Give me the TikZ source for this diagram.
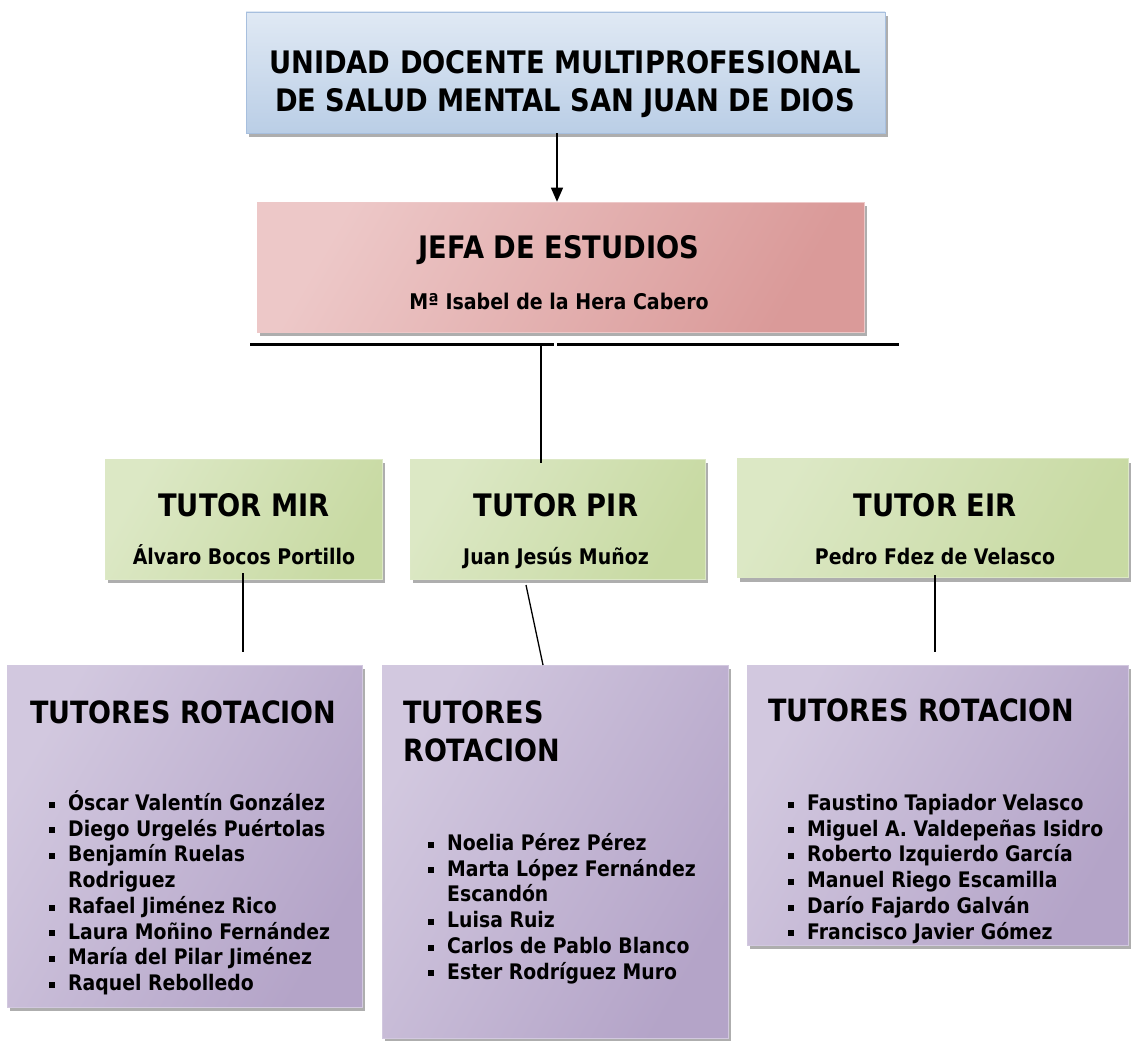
\documentclass[tikz,border=0pt]{standalone}
\usepackage{fontspec}
\newfontfamily\tah{DejaVu Sans}[FakeStretch=0.88]
\usetikzlibrary{shadows,arrows.meta}
\newcommand\fsz[2]{\tah\bfseries\fontsize{#1}{#2}\selectfont}
\newcommand\bul{\rule[0.13em]{0.28em}{0.28em}}
\definecolor{blueL}{HTML}{E0E9F4}
\definecolor{blueD}{HTML}{BACEE6}
\definecolor{blueB}{HTML}{A7BFDE}
\definecolor{pinkL}{HTML}{F8EAEA}
\definecolor{pinkD}{HTML}{DA9A99}
\definecolor{pinkM}{HTML}{EDC8C8}
\definecolor{greenL}{HTML}{EFF5E4}
\definecolor{greenD}{HTML}{C8DAA3}
\definecolor{greenM}{HTML}{DCE8C5}
\definecolor{purpL}{HTML}{EAE6F1}
\definecolor{purpD}{HTML}{B4A4C8}
\definecolor{purpM}{HTML}{D2C8DF}
\tikzset{
  shad/.style={drop shadow={shadow xshift=3pt,shadow yshift=-4pt,fill=black!45,opacity=0.7}},
  bluebox/.style={shad,draw=blueB,line width=0.6pt,top color=blueL,bottom color=blueD,inner sep=0pt},
  pinkbox/.style={shad,draw=pinkM,line width=0.6pt,left color=pinkM,middle color=pinkL,right color=pinkD,shading angle=60,inner sep=0pt},
  greenbox/.style={shad,draw=greenM,line width=0.6pt,left color=greenM,middle color=greenL,right color=greenD,shading angle=60,inner sep=0pt},
  purpbox/.style={shad,draw=purpM,line width=0.6pt,left color=purpM,middle color=purpL,right color=purpD,shading angle=60,inner sep=0pt},
  conn/.style={line width=1.3pt,black},
  txt/.style={inner sep=0pt,anchor=base}
}
\begin{document}
\begin{tikzpicture}[x=1pt,y=-1pt]
\useasboundingbox[fill=white] (0,0) rectangle (1132,1041);
% boxes
\node[bluebox,minimum width=639pt,minimum height=121pt] (top) at (565.5,72.5) {};
\node[pinkbox,minimum width=607pt,minimum height=130pt] (jefa) at (560.5,267) {};
\node[greenbox,minimum width=277pt,minimum height=120pt] (mir) at (243.5,519) {};
\node[greenbox,minimum width=295pt,minimum height=120pt] (pir) at (557.5,519) {};
\node[greenbox,minimum width=391pt,minimum height=119pt] (eir) at (932.5,518) {};
\node[purpbox,minimum width=355pt,minimum height=342pt] (rot1) at (184.5,836) {};
\node[purpbox,minimum width=346pt,minimum height=373pt] (rot2) at (555,851.5) {};
\node[purpbox,minimum width=381pt,minimum height=280pt] (rot3) at (937.5,805) {};
% texts
\node[txt,align=center,font=\fsz{31}{38}] (topT) at (565,111) {UNIDAD DOCENTE MULTIPROFESIONAL\\DE SALUD MENTAL SAN JUAN DE DIOS};
\node[txt,font=\fsz{31}{36}] (jefaT) at (559,258) {JEFA DE ESTUDIOS};
\node[txt,font=\fsz{21.6}{26}] (jefaN) at (559,309.5) {Mª Isabel de la Hera Cabero};
\node[txt,font=\fsz{31}{36}] (mirT) at (244,516) {TUTOR MIR};
\node[txt,font=\fsz{21.5}{26}] (mirN) at (244,564.5) {Álvaro Bocos Portillo};
\node[txt,font=\fsz{31}{36}] (pirT) at (556,516) {TUTOR PIR};
\node[txt,font=\fsz{21.5}{26}] (pirN) at (556,564.5) {Juan Jesús Muñoz};
\node[txt,font=\fsz{31}{36}] (eirT) at (935,516) {TUTOR EIR};
\node[txt,font=\fsz{21.5}{26}] (eirN) at (935,564.5) {Pedro Fdez de Velasco};
% rotation titles
\node[txt,anchor=base west,font=\fsz{30.7}{38}] (r1T) at (30,723) {TUTORES ROTACION};
\node[txt,anchor=base west,align=left,font=\fsz{30.7}{38}] (r2T) at (403,761) {TUTORES\\ROTACION};
\node[txt,anchor=base west,font=\fsz{30.7}{38}] (r3T) at (768,721) {TUTORES ROTACION};
% lists
\node[txt,anchor=base west,font=\fsz{21.4}{25.7}] (r1L) at (49,810.5) {\begin{tabular}[t]{@{}p{19pt}@{}l@{}}
\bul & Óscar Valentín González\\
\bul & Diego Urgelés Puértolas\\
\bul & Benjamín Ruelas\\
 & Rodriguez\\
\bul & Rafael Jiménez Rico\\
\bul & Laura Moñino Fernández\\
\bul & María del Pilar Jiménez\\
\bul & Raquel Rebolledo
\end{tabular}};
\node[txt,anchor=base west,font=\fsz{21.4}{25.7}] (r2L) at (428,850.5) {\begin{tabular}[t]{@{}p{19pt}@{}l@{}}
\bul & Noelia Pérez Pérez\\
\bul & Marta López Fernández\\
 & Escandón\\
\bul & Luisa Ruiz\\
\bul & Carlos de Pablo Blanco\\
\bul & Ester Rodríguez Muro
\end{tabular}};
\node[txt,anchor=base west,font=\fsz{21.4}{25.7}] (r3L) at (788,810.5) {\begin{tabular}[t]{@{}p{19pt}@{}l@{}}
\bul & Faustino Tapiador Velasco\\
\bul & Miguel A. Valdepeñas Isidro\\
\bul & Roberto Izquierdo García\\
\bul & Manuel Riego Escamilla\\
\bul & Darío Fajardo Galván\\
\bul & Francisco Javier Gómez
\end{tabular}};
% connectors
\coordinate (a1) at (557,133);
\draw[conn,-{Triangle[length=14pt,width=12pt]}] (a1) -- (a1 |- jefa.north);
\coordinate (hl) at (250,344);
\coordinate (hm) at (554,344);
\coordinate (hm2) at (557,344);
\coordinate (hr) at (899,344);
\draw[line width=3pt] (hl) -- (hm);
\draw[line width=3pt] (hm2) -- (hr);
\coordinate (vj) at (541,344);
\draw[conn] (vj) -- ([yshift=-4pt]vj |- pir.north);
\coordinate (m1) at (243,573);
\coordinate (m2) at (243,652);
\draw[conn] (m1) -- (m2);
\coordinate (p1) at (526,585);
\coordinate (p2) at (543,665);
\draw[conn] (p1) -- (p2);
\coordinate (e1) at (935,575);
\coordinate (e2) at (935,652);
\draw[conn] (e1) -- (e2);
\end{tikzpicture}
\end{document}
